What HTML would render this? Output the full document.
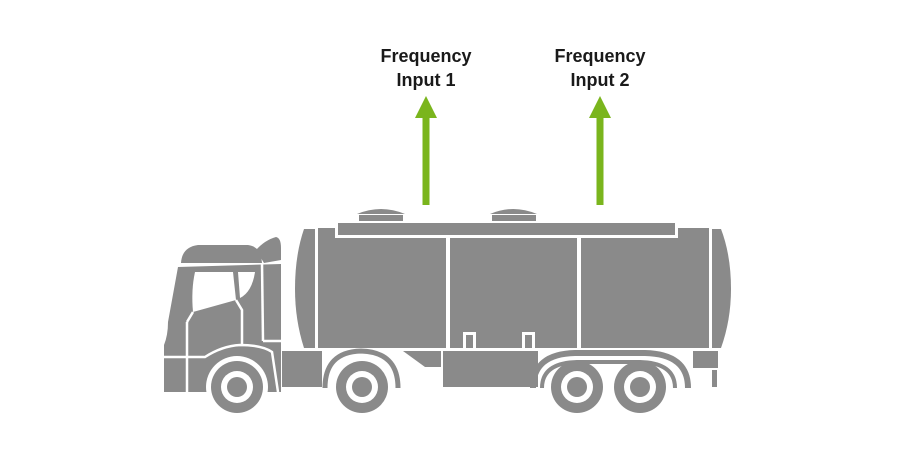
<!DOCTYPE html>
<html><head><style>body{margin:0;background:#fff}svg{display:block}</style></head><body>
<svg width="900" height="450" viewBox="0 0 900 450" xmlns="http://www.w3.org/2000/svg">
<g font-family="Liberation Sans, sans-serif" font-weight="bold" font-size="18" fill="#1a1a1a" text-anchor="middle">
<text x="426" y="62">Frequency</text><text x="426" y="86">Input 1</text>
<text x="600" y="62">Frequency</text><text x="600" y="86">Input 2</text>
</g>
<g fill="#7ab51d">
<rect x="422.5" y="116" width="7" height="89"/><polygon points="426,96 415,118 437,118"/>
<rect x="596.5" y="116" width="7" height="89"/><polygon points="600,96 589,118 611,118"/>
</g>
<g fill="#8a8a8a">
<path d="M357,214 Q381,204 405,214 Z"/><rect x="359" y="215" width="44" height="6"/>
<path d="M490,214 Q513,204 537,214 Z"/><rect x="492" y="215" width="44" height="6"/>
<rect x="338" y="223" width="337" height="12"/>
<path d="M304,229 L315,229 L315,348 L304,348 Q295,320 295,289 Q295,255 304,229 Z"/>
<path d="M318,228 L335,228 L335,238 L446,238 L446,348 L318,348 Z"/>
<rect x="450" y="238" width="127" height="110"/>
<path d="M581,238 L678,238 L678,228 L709,228 L709,348 L581,348 Z"/>
<path d="M712,229 L721,229 Q731,255 731,289 Q731,320 721,348 L712,348 Z"/>
<rect x="282" y="351" width="40" height="36"/>
<polygon points="403,351 441,351 441,367 425,367"/>
<rect x="443" y="351" width="95" height="36"/>
<rect x="693" y="351" width="25" height="17"/>
<rect x="712" y="370" width="5" height="17"/>
<path d="M181,263 Q182,247 198,245 L248,245 Q257,246 261,255 L262,263 Z"/>
<path d="M256,250 Q265,240 276,237 Q281,238 281,248 L281,260 L264,263 Z"/>
<path d="M178,267 L281,264 L281,392 L164,392 L164,345 Q168,335 168,322 Z"/>
</g>
<g fill="#fff">
<path d="M195,272 L233,272 L236,300 L193,312 Q191,290 195,272 Z"/>
<path d="M238,272 L255,272 Q252,292 240,298 Z"/>
<circle cx="237" cy="387" r="31"/>
</g>
<g stroke="#fff" stroke-width="2.5" fill="none">
<path d="M236,300 L242,310 L242,344"/>
<line x1="193" y1="312" x2="187" y2="322"/>
<line x1="187" y1="322" x2="187" y2="392"/>
<path d="M162,357 L205,357 Q222,346 240,345 Q262,345 272,352 L278,392"/>
<line x1="262" y1="263" x2="263" y2="341"/>
<line x1="263" y1="341" x2="283" y2="341"/>
</g>
<g fill="none" stroke="#8a8a8a">
<path d="M325,388 Q325,352 361,351 Q398,352 398,388" stroke-width="5"/>
<path d="M533,388 Q533,354 575,353 L645,353 Q688,354 688,388" stroke-width="6"/>
<path d="M542,388 Q542,363 577,362 L640,362 Q675,363 675,388" stroke-width="4"/>
</g>
<g transform="translate(237,387)"><circle r="26" fill="#8a8a8a"/><circle r="16" fill="#fff"/><circle r="10" fill="#8a8a8a"/></g>
<g transform="translate(362,387)"><circle r="26" fill="#8a8a8a"/><circle r="16" fill="#fff"/><circle r="10" fill="#8a8a8a"/></g>
<g transform="translate(577,387)"><circle r="26" fill="#8a8a8a"/><circle r="16" fill="#fff"/><circle r="10" fill="#8a8a8a"/></g>
<g transform="translate(640,387)"><circle r="26" fill="#8a8a8a"/><circle r="16" fill="#fff"/><circle r="10" fill="#8a8a8a"/></g>
<g fill="#fff"><rect x="463" y="332" width="13" height="16"/><rect x="522" y="332" width="13" height="16"/></g>
<g fill="#8a8a8a"><rect x="466" y="335" width="7" height="13"/><rect x="525" y="335" width="7" height="13"/></g>
</svg>
</body></html>
